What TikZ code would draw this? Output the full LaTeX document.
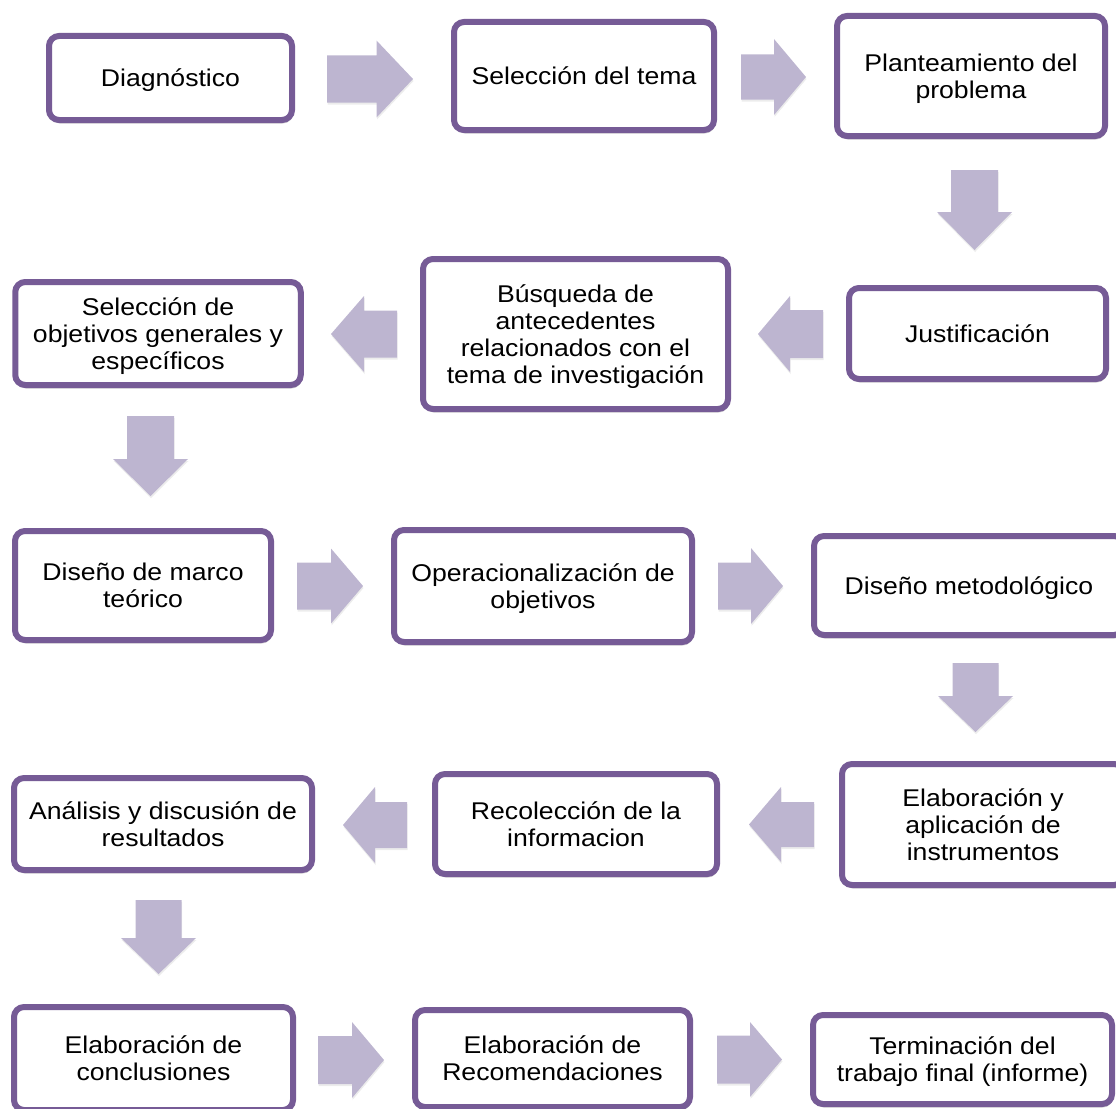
\documentclass[tikz,border=0pt]{standalone}
\usepackage{fontspec}
\setmainfont{Liberation Sans}[FakeStretch=1.1]
\usetikzlibrary{shadows}
\definecolor{bord}{HTML}{765B96}
\definecolor{arrf}{HTML}{BDB5D0}
\newcommand\ml[1]{\vbox{\baselineskip=27pt\lineskiplimit=-50pt\halign{\hfil##\hfil\cr#1\crcr}}}
\tikzset{
  box/.style={draw=bord, line width=6pt, rounded corners=10pt, fill=white,
    inner sep=0pt, font=\fontsize{24.2}{27}\selectfont, text depth=0pt,
    drop shadow={shadow xshift=1pt, shadow yshift=-3.5pt, opacity=0.3, fill=black!55}},
  lone/.style={text height=17.3pt},
  ltwo/.style={text height=44.3pt},
  lthree/.style={text height=71.3pt},
  lfour/.style={text height=98.3pt},
  blk/.style={fill=arrf, drop shadow={shadow xshift=0.5pt, shadow yshift=-2pt, opacity=0.15, fill=black!50}}
}
% right arrow: tail, head start, tip, y centre, head half-height, shaft half-height
\newcommand\arrR[6]{\path[blk] ({#1},{#4-#6}) -- ({#2},{#4-#6}) -- ({#2},{#4-#5}) -- ({#3},{#4}) -- ({#2},{#4+#5}) -- ({#2},{#4+#6}) -- ({#1},{#4+#6}) -- cycle;}
% down arrow: tail, head start, tip, x centre, head half-width, shaft half-width
\newcommand\arrD[6]{\path[blk] ({#4-#6},{#1}) -- ({#4-#6},{#2}) -- ({#4-#5},{#2}) -- ({#4},{#3}) -- ({#4+#5},{#2}) -- ({#4+#6},{#2}) -- ({#4+#6},{#1}) -- cycle;}
\begin{document}
\begin{tikzpicture}[x=1pt,y=-1pt]
\useasboundingbox (0,0) rectangle (1116,1108);
% arrows
\arrR{327}{376.5}{413}{79}{38.5}{23.5}
\arrR{741}{774}{806}{77}{38}{22.5}
\arrD{170}{212}{250}{974.5}{37.5}{23.5}
\arrR{823}{790}{758}{334}{38}{24}
\arrR{397}{364}{331}{334}{38}{23.5}
\arrD{416}{459}{496}{150.5}{37.5}{23.5}
\arrR{297}{331}{363}{586}{37.5}{23.5}
\arrR{718}{751}{783}{586}{38}{23.5}
\arrD{663}{696}{732}{975.5}{37.5}{23}
\arrR{814}{781}{749}{824.5}{37.5}{22.5}
\arrR{407}{375}{343}{825}{38}{23}
\arrD{900}{938}{974}{158.5}{37.5}{23}
\arrR{318}{352}{384}{1060}{38}{24}
\arrR{717}{750}{782}{1059.5}{37.5}{24}
% row 1
\node[box, lone, minimum width=243pt, minimum height=84pt] (b1) at (170.5,78) {\ml{Diagnóstico}};
\node[box, lone, minimum width=260pt, minimum height=108pt] (b2) at (584,76) {\ml{Selección del tema}};
\node[box, ltwo, minimum width=268pt, minimum height=120pt] (b3) at (971,76) {\ml{Planteamiento del\cr problema}};
% row 2
\node[box, lone, minimum width=257pt, minimum height=91pt] (b4) at (977.5,333.5) {\ml{Justificación}};
\node[box, lfour, minimum width=305pt, minimum height=150pt] (b5) at (575.5,334) {\ml{Búsqueda de\cr antecedentes\cr relacionados con el\cr tema de investigación}};
\node[box, lthree, minimum width=285.5pt, minimum height=103pt] (b6) at (158,333.5) {\ml{Selección de\cr objetivos generales y\cr específicos}};
% row 3
\node[box, ltwo, minimum width=256pt, minimum height=109pt] (b7) at (143,585.5) {\ml{Diseño de marco\cr teórico}};
\node[box, ltwo, minimum width=298pt, minimum height=112pt] (b8) at (543,586) {\ml{Operacionalización de\cr objetivos}};
\node[box, lone, minimum width=310pt, minimum height=99pt] (b9) at (969,585.5) {\ml{Diseño metodológico}};
% row 4
\node[box, lthree, minimum width=282pt, minimum height=121pt] (b10) at (983,824.5) {\ml{Elaboración y\cr aplicación de\cr instrumentos}};
\node[box, ltwo, minimum width=282pt, minimum height=100pt] (b11) at (576,824) {\ml{Recolección de la\cr informacion}};
\node[box, ltwo, minimum width=298pt, minimum height=92pt] (b12) at (163,824) {\ml{Análisis y discusión de\cr resultados}};
% row 5
\node[box, ltwo, minimum width=279pt, minimum height=103pt] (b13) at (153.5,1058.5) {\ml{Elaboración de\cr conclusiones}};
\node[box, ltwo, minimum width=275pt, minimum height=97pt] (b14) at (552.5,1058.5) {\ml{Elaboración de\cr Recomendaciones}};
\node[box, ltwo, minimum width=299pt, minimum height=89pt] (b15) at (962.5,1059.5) {\ml{Terminación del\cr trabajo final (informe)}};
\end{tikzpicture}
\end{document}
